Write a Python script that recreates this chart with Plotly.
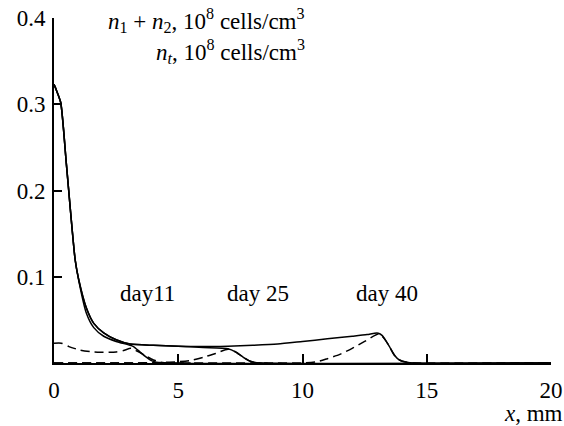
import plotly.graph_objects as go

# Solid curves: n1 + n2
x_s11 = [0, 0.1, 0.27, 0.5, 0.85, 1.0, 1.3, 1.6, 2.0, 2.5, 3.0, 3.2, 3.45, 3.7, 3.9, 4.1, 4.4, 20]
y_s11 = [0.323, 0.316, 0.302, 0.23, 0.12, 0.095, 0.058, 0.041, 0.031, 0.025, 0.021, 0.019, 0.013, 0.007, 0.003, 0.001, 0, 0]

x_s25 = [0, 0.1, 0.27, 0.5, 0.85, 1.0, 1.3, 1.6, 2.0, 2.5, 3.06, 4.0, 5.0, 6.0, 7.0, 7.3, 7.6, 7.9, 8.3, 20]
y_s25 = [0.323, 0.316, 0.302, 0.23, 0.12, 0.096, 0.064, 0.046, 0.035, 0.027, 0.022, 0.0205, 0.0195, 0.018, 0.0165, 0.013, 0.007, 0.002, 0, 0]

x_s40 = [0, 0.1, 0.27, 0.5, 0.85, 1.0, 1.3, 1.6, 2.0, 2.5, 3.06, 4.0, 5.0, 6.0, 7.0, 8.0, 9.0, 10.0, 11.0, 12.0, 12.6, 12.9, 13.05, 13.2, 13.35, 13.5, 13.7, 13.9, 14.2, 14.5, 20]
y_s40 = [0.323, 0.316, 0.302, 0.23, 0.12, 0.096, 0.064, 0.046, 0.035, 0.027, 0.022, 0.0205, 0.0195, 0.019, 0.0195, 0.0205, 0.022, 0.025, 0.028, 0.031, 0.033, 0.0345, 0.0345, 0.032, 0.026, 0.019, 0.009, 0.0035, 0.0008, 0, 0]

# Dashed curves: n_t
x_d11 = [0, 0.3, 0.6, 1.05, 1.5, 1.85, 2.5, 2.8, 3.1, 3.4, 3.7, 4.0, 4.3, 4.7, 5.5]
y_d11 = [0.023, 0.023, 0.019, 0.015, 0.013, 0.0125, 0.0128, 0.0145, 0.017, 0.013, 0.008, 0.0035, 0.001, 0, 0]

x_d25 = [0, 3, 4.3, 5.0, 5.5, 6.0, 6.5, 7.0, 7.3, 7.6, 7.9, 8.3, 20]
y_d25 = [0, 0, 0.0005, 0.0015, 0.003, 0.0066, 0.011, 0.016, 0.013, 0.007, 0.002, 0, 0]

x_d40 = [0, 9, 10, 10.6, 11.0, 11.5, 12.0, 12.5, 13.05, 13.2, 13.35, 13.5, 13.7, 13.9, 14.2, 14.5, 20]
y_d40 = [0, 0, 0, 0.0015, 0.005, 0.01, 0.017, 0.025, 0.0335, 0.031, 0.026, 0.019, 0.009, 0.0035, 0.0008, 0, 0]

day_labels = ["day11", "day 25", "day 40"]
day_x = [3.78, 8.2, 13.4]
day_y = [0.081, 0.081, 0.081]

x_ticks = [0, 5, 10, 15, 20]
y_ticks = [0.1, 0.2, 0.3, 0.4]

FONT = "Liberation Serif"
FS = 23
TF = dict(family=FONT, size=FS, color="black")

fig = go.Figure()
for xs, ys in [(x_d11, y_d11), (x_d25, y_d25), (x_d40, y_d40)]:
    fig.add_trace(go.Scatter(x=xs, y=ys, mode="lines", line=dict(color="black", width=1.5, dash="9px,5px", shape="spline", smoothing=0.6), showlegend=False))
for xs, ys in [(x_s11, y_s11), (x_s25, y_s25), (x_s40, y_s40)]:
    fig.add_trace(go.Scatter(x=xs, y=ys, mode="lines", line=dict(color="black", width=1.5, shape="spline", smoothing=0.6), showlegend=False))

for t, xx, yy in zip(day_labels, day_x, day_y):
    fig.add_annotation(x=xx, y=yy, text=t, showarrow=False, font=TF)

PW, PH = 497, 345
fig.add_annotation(xref="paper", yref="paper", x=(307 - 54) / PW, y=(363 - 21) / PH, xanchor="right", yanchor="middle",
                   text="<i>n</i><sub>1</sub> + <i>n</i><sub>2</sub>, 10<sup>8</sup> cells/cm<sup>3</sup>",
                   showarrow=False, font=TF)
fig.add_annotation(xref="paper", yref="paper", x=(307 - 54) / PW, y=(363 - 52) / PH, xanchor="right", yanchor="middle",
                   text="<i>n<sub>t</sub></i>, 10<sup>8</sup> cells/cm<sup>3</sup>",
                   showarrow=False, font=TF)
fig.add_annotation(xref="paper", yref="paper", x=(565 - 54) / PW, y=(363 - 413) / PH, xanchor="right", yanchor="middle",
                   text="<i>x</i>, mm", showarrow=False, font=TF)

fig.update_layout(
    width=564, height=426,
    margin=dict(l=54, r=13, t=18, b=63),
    paper_bgcolor="white", plot_bgcolor="white",
    font=TF,
    xaxis=dict(range=[0, 20], tickvals=x_ticks, ticktext=[str(v) for v in x_ticks], ticks="inside", ticklen=9, tickwidth=2,
               tickcolor="black", showline=True, linecolor="black", linewidth=2, showgrid=False, zeroline=False,
               ticklabelstandoff=5, automargin=False, tickfont=TF),
    yaxis=dict(range=[0, 0.4], tickvals=y_ticks, ticktext=["0.1", "0.2", "0.3", "0.4"], ticks="inside", ticklen=8, tickwidth=2,
               tickcolor="black", showline=True, linecolor="black", linewidth=2, showgrid=False, zeroline=False,
               ticklabelstandoff=2, automargin=False, tickfont=TF),
)

fig.write_html("out.html")
